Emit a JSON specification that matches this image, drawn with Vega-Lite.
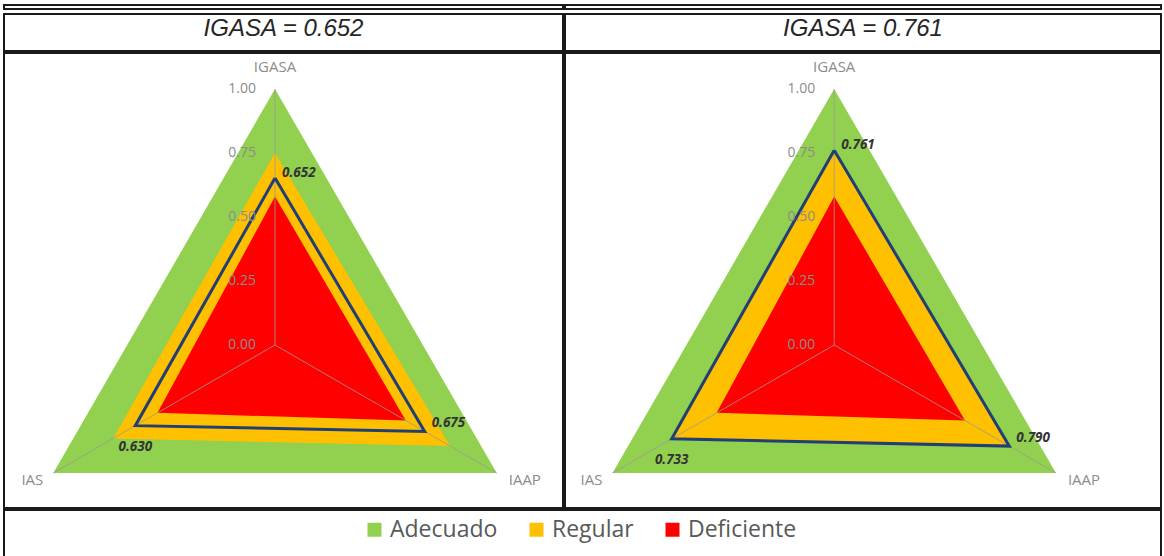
{
  "$schema": "https://vega.github.io/schema/vega-lite/v6.json",
  "padding": {"left": 3, "top": 0, "right": 0, "bottom": 0},
  "background": "white",
  "datasets": {
    "radar": [
      {"chart": "both", "series": "Adecuado", "axis": "IGASA", "value": 1.0, "o": 0},
      {"chart": "both", "series": "Adecuado", "axis": "IAAP", "value": 1.0, "o": 1},
      {"chart": "both", "series": "Adecuado", "axis": "IAS", "value": 1.0, "o": 2},
      {"chart": "both", "series": "Adecuado", "axis": "IGASA", "value": 1.0, "o": 3},
      {"chart": "both", "series": "Regular", "axis": "IGASA", "value": 0.75, "o": 0},
      {"chart": "both", "series": "Regular", "axis": "IAAP", "value": 0.79, "o": 1},
      {"chart": "both", "series": "Regular", "axis": "IAS", "value": 0.73, "o": 2},
      {"chart": "both", "series": "Regular", "axis": "IGASA", "value": 0.75, "o": 3},
      {"chart": "both", "series": "Deficiente", "axis": "IGASA", "value": 0.58, "o": 0},
      {"chart": "both", "series": "Deficiente", "axis": "IAAP", "value": 0.59, "o": 1},
      {"chart": "both", "series": "Deficiente", "axis": "IAS", "value": 0.53, "o": 2},
      {"chart": "both", "series": "Deficiente", "axis": "IGASA", "value": 0.58, "o": 3},
      {"chart": "both", "series": "tick", "axis": "IGASA", "value": 0.0, "o": 0},
      {"chart": "both", "series": "tick", "axis": "IGASA", "value": 0.25, "o": 1},
      {"chart": "both", "series": "tick", "axis": "IGASA", "value": 0.5, "o": 2},
      {"chart": "both", "series": "tick", "axis": "IGASA", "value": 0.75, "o": 3},
      {"chart": "both", "series": "tick", "axis": "IGASA", "value": 1.0, "o": 4},
      {"chart": "L", "series": "Valor", "axis": "IGASA", "value": 0.652, "o": 0},
      {"chart": "L", "series": "Valor", "axis": "IAAP", "value": 0.675, "o": 1},
      {"chart": "L", "series": "Valor", "axis": "IAS", "value": 0.630, "o": 2},
      {"chart": "L", "series": "Valor", "axis": "IGASA", "value": 0.652, "o": 3},
      {"chart": "R", "series": "Valor", "axis": "IGASA", "value": 0.761, "o": 0},
      {"chart": "R", "series": "Valor", "axis": "IAAP", "value": 0.790, "o": 1},
      {"chart": "R", "series": "Valor", "axis": "IAS", "value": 0.733, "o": 2},
      {"chart": "R", "series": "Valor", "axis": "IGASA", "value": 0.761, "o": 3}
    ]
  },
  "spacing": 0,
  "vconcat": [
    {
      "spacing": 0,
      "hconcat": [
        {"width": 559, "height": 4, "data": {"values": [{"t": ""}]}, "mark": {"type": "text"},
         "encoding": {"text": {"field": "t"},
           "x": {"datum": 0.5, "type": "quantitative", "scale": {"domain": [0, 1]}, "axis": null},
           "y": {"datum": 0.5, "type": "quantitative", "scale": {"domain": [0, 1]}, "axis": null}}},
        {"width": 596, "height": 4, "data": {"values": [{"t": ""}]}, "mark": {"type": "text"},
         "encoding": {"text": {"field": "t"},
           "x": {"datum": 0.5, "type": "quantitative", "scale": {"domain": [0, 1]}, "axis": null},
           "y": {"datum": 0.5, "type": "quantitative", "scale": {"domain": [0, 1]}, "axis": null}}}
      ]
    },
    {
      "spacing": 0,
      "hconcat": [
        {"width": 559, "height": 37, "data": {"values": [{"t": "IGASA = 0.652"}]},
         "mark": {"type": "text", "font": "Liberation Sans", "fontStyle": "italic", "fontSize": 24, "color": "#262626", "dy": -4},
         "encoding": {"text": {"field": "t"},
           "x": {"datum": 0.5, "type": "quantitative", "scale": {"domain": [0, 1]}, "axis": null},
           "y": {"datum": 0.5, "type": "quantitative", "scale": {"domain": [0, 1]}, "axis": null}}},
        {"width": 596, "height": 37, "data": {"values": [{"t": "IGASA = 0.761"}]},
         "mark": {"type": "text", "font": "Liberation Sans", "fontStyle": "italic", "fontSize": 24, "color": "#262626", "dy": -4},
         "encoding": {"text": {"field": "t"},
           "x": {"datum": 0.5, "type": "quantitative", "scale": {"domain": [0, 1]}, "axis": null},
           "y": {"datum": 0.5, "type": "quantitative", "scale": {"domain": [0, 1]}, "axis": null}}}
      ]
    },
    {
      "spacing": 0,
      "hconcat": [
        {
          "width": 559, "height": 455,
          "data": {"name": "radar"},
          "transform": [
            {"filter": "datum.chart == 'both' || datum.chart == 'L'"},
            {"calculate": "datum.axis == 'IGASA' ? PI/2 : (datum.axis == 'IAAP' ? -PI/6 : 7*PI/6)", "as": "a"},
            {"calculate": "datum.value * cos(datum.a)", "as": "x"},
            {"calculate": "datum.value * sin(datum.a)", "as": "y"}
          ],
          "encoding": {
            "x": {"field": "x", "type": "quantitative", "scale": {"domain": [-1.0586, 1.125], "nice": false, "zero": false}, "axis": null},
            "y": {"field": "y", "type": "quantitative", "scale": {"domain": [-0.6367, 1.1406], "nice": false, "zero": false}, "axis": null}
          },
          "layer": [
            {"transform": [{"filter": "datum.series == 'Adecuado'"}],
             "mark": {"type": "line", "filled": true, "strokeWidth": 0},
             "encoding": {"order": {"field": "o"},
               "color": {"field": "series", "type": "nominal", "scale": {"domain": ["Adecuado", "Regular", "Deficiente"], "range": ["#92D050", "#FFC000", "#FF0000"]},
                 "legend": {"orient": "none", "legendX": 359, "legendY": 513, "direction": "horizontal", "title": null, "symbolType": "square", "symbolSize": 196, "symbolStrokeWidth": 0, "labelFontSize": 23, "labelFont": "Open Sans", "labelColor": "#595959", "columnPadding": 27, "labelOffset": 4}}}},
            {"transform": [{"filter": "datum.series == 'Regular'"}],
             "mark": {"type": "line", "filled": true, "strokeWidth": 0},
             "encoding": {"order": {"field": "o"},
               "color": {"field": "series", "type": "nominal", "scale": {"domain": ["Adecuado", "Regular", "Deficiente"], "range": ["#92D050", "#FFC000", "#FF0000"]}}}},
            {"transform": [{"filter": "datum.series == 'Deficiente'"}],
             "mark": {"type": "line", "filled": true, "strokeWidth": 0},
             "encoding": {"order": {"field": "o"},
               "color": {"field": "series", "type": "nominal", "scale": {"domain": ["Adecuado", "Regular", "Deficiente"], "range": ["#92D050", "#FFC000", "#FF0000"]}}}},
            {"transform": [{"filter": "datum.series == 'Adecuado' && datum.o < 3"}],
             "mark": {"type": "rule", "color": "#9a9a9a", "strokeWidth": 1, "opacity": 0.8},
             "encoding": {"x2": {"datum": 0}, "y2": {"datum": 0}}},
            {"transform": [{"filter": "datum.series == 'Valor'"}],
             "mark": {"type": "line", "color": "#223F75", "strokeWidth": 3},
             "encoding": {"order": {"field": "o"}}},
            {"transform": [{"filter": "datum.series == 'tick'"}],
             "mark": {"type": "text", "align": "right", "baseline": "middle", "dx": -19, "font": "Open Sans", "fontSize": 14, "color": "#8c8c8c"},
             "encoding": {"text": {"field": "value", "type": "quantitative", "format": ".2f"}}},
            {"transform": [{"filter": "datum.series == 'Valor' && datum.o == 0"}],
             "mark": {"type": "text", "align": "left", "baseline": "middle", "dx": 7, "dy": -5, "font": "Open Sans", "fontSize": 13.5, "fontStyle": "italic", "fontWeight": "bold", "color": "#333333"},
             "encoding": {"text": {"field": "value", "type": "quantitative", "format": ".3f"}}},
            {"transform": [{"filter": "datum.series == 'Valor' && datum.o == 1"}],
             "mark": {"type": "text", "align": "left", "baseline": "middle", "dx": 7, "dy": -8, "font": "Open Sans", "fontSize": 13.5, "fontStyle": "italic", "fontWeight": "bold", "color": "#333333"},
             "encoding": {"text": {"field": "value", "type": "quantitative", "format": ".3f"}}},
            {"transform": [{"filter": "datum.series == 'Valor' && datum.o == 2"}],
             "mark": {"type": "text", "align": "center", "baseline": "middle", "dx": 0, "dy": 21, "font": "Open Sans", "fontSize": 13.5, "fontStyle": "italic", "fontWeight": "bold", "color": "#333333"},
             "encoding": {"text": {"field": "value", "type": "quantitative", "format": ".3f"}}},
            {"transform": [{"filter": "datum.series == 'Adecuado' && datum.o == 0"}],
             "mark": {"type": "text", "align": "center", "baseline": "middle", "dy": -22, "font": "Open Sans", "fontSize": 15, "color": "#8c8c8c"},
             "encoding": {"text": {"field": "axis"}}},
            {"transform": [{"filter": "datum.series == 'Adecuado' && datum.o == 1"}],
             "mark": {"type": "text", "align": "left", "baseline": "middle", "dx": 12, "dy": 7, "font": "Open Sans", "fontSize": 15, "color": "#8c8c8c"},
             "encoding": {"text": {"field": "axis"}}},
            {"transform": [{"filter": "datum.series == 'Adecuado' && datum.o == 2"}],
             "mark": {"type": "text", "align": "right", "baseline": "middle", "dx": -10, "dy": 7, "font": "Open Sans", "fontSize": 15, "color": "#8c8c8c"},
             "encoding": {"text": {"field": "axis"}}}
          ]
        },
        {
          "width": 596, "height": 455,
          "data": {"name": "radar"},
          "transform": [
            {"filter": "datum.chart == 'both' || datum.chart == 'R'"},
            {"calculate": "datum.axis == 'IGASA' ? PI/2 : (datum.axis == 'IAAP' ? -PI/6 : 7*PI/6)", "as": "a"},
            {"calculate": "datum.value * cos(datum.a)", "as": "x"},
            {"calculate": "datum.value * sin(datum.a)", "as": "y"}
          ],
          "encoding": {
            "x": {"field": "x", "type": "quantitative", "scale": {"domain": [-1.0516, 1.2766], "nice": false, "zero": false}, "axis": null},
            "y": {"field": "y", "type": "quantitative", "scale": {"domain": [-0.6367, 1.1406], "nice": false, "zero": false}, "axis": null}
          },
          "layer": [
            {"transform": [{"filter": "datum.series == 'Adecuado'"}],
             "mark": {"type": "line", "filled": true, "strokeWidth": 0},
             "encoding": {"order": {"field": "o"},
               "color": {"field": "series", "type": "nominal", "scale": {"domain": ["Adecuado", "Regular", "Deficiente"], "range": ["#92D050", "#FFC000", "#FF0000"]}}}},
            {"transform": [{"filter": "datum.series == 'Regular'"}],
             "mark": {"type": "line", "filled": true, "strokeWidth": 0},
             "encoding": {"order": {"field": "o"},
               "color": {"field": "series", "type": "nominal", "scale": {"domain": ["Adecuado", "Regular", "Deficiente"], "range": ["#92D050", "#FFC000", "#FF0000"]}}}},
            {"transform": [{"filter": "datum.series == 'Deficiente'"}],
             "mark": {"type": "line", "filled": true, "strokeWidth": 0},
             "encoding": {"order": {"field": "o"},
               "color": {"field": "series", "type": "nominal", "scale": {"domain": ["Adecuado", "Regular", "Deficiente"], "range": ["#92D050", "#FFC000", "#FF0000"]}}}},
            {"transform": [{"filter": "datum.series == 'Adecuado' && datum.o < 3"}],
             "mark": {"type": "rule", "color": "#9a9a9a", "strokeWidth": 1, "opacity": 0.8},
             "encoding": {"x2": {"datum": 0}, "y2": {"datum": 0}}},
            {"transform": [{"filter": "datum.series == 'Valor'"}],
             "mark": {"type": "line", "color": "#223F75", "strokeWidth": 3},
             "encoding": {"order": {"field": "o"}}},
            {"transform": [{"filter": "datum.series == 'tick'"}],
             "mark": {"type": "text", "align": "right", "baseline": "middle", "dx": -19, "font": "Open Sans", "fontSize": 14, "color": "#8c8c8c"},
             "encoding": {"text": {"field": "value", "type": "quantitative", "format": ".2f"}}},
            {"transform": [{"filter": "datum.series == 'Valor' && datum.o == 0"}],
             "mark": {"type": "text", "align": "left", "baseline": "middle", "dx": 7, "dy": -5, "font": "Open Sans", "fontSize": 13.5, "fontStyle": "italic", "fontWeight": "bold", "color": "#333333"},
             "encoding": {"text": {"field": "value", "type": "quantitative", "format": ".3f"}}},
            {"transform": [{"filter": "datum.series == 'Valor' && datum.o == 1"}],
             "mark": {"type": "text", "align": "left", "baseline": "middle", "dx": 7, "dy": -8, "font": "Open Sans", "fontSize": 13.5, "fontStyle": "italic", "fontWeight": "bold", "color": "#333333"},
             "encoding": {"text": {"field": "value", "type": "quantitative", "format": ".3f"}}},
            {"transform": [{"filter": "datum.series == 'Valor' && datum.o == 2"}],
             "mark": {"type": "text", "align": "center", "baseline": "middle", "dx": 0, "dy": 21, "font": "Open Sans", "fontSize": 13.5, "fontStyle": "italic", "fontWeight": "bold", "color": "#333333"},
             "encoding": {"text": {"field": "value", "type": "quantitative", "format": ".3f"}}},
            {"transform": [{"filter": "datum.series == 'Adecuado' && datum.o == 0"}],
             "mark": {"type": "text", "align": "center", "baseline": "middle", "dy": -22, "font": "Open Sans", "fontSize": 15, "color": "#8c8c8c"},
             "encoding": {"text": {"field": "axis"}}},
            {"transform": [{"filter": "datum.series == 'Adecuado' && datum.o == 1"}],
             "mark": {"type": "text", "align": "left", "baseline": "middle", "dx": 12, "dy": 7, "font": "Open Sans", "fontSize": 15, "color": "#8c8c8c"},
             "encoding": {"text": {"field": "axis"}}},
            {"transform": [{"filter": "datum.series == 'Adecuado' && datum.o == 2"}],
             "mark": {"type": "text", "align": "right", "baseline": "middle", "dx": -10, "dy": 7, "font": "Open Sans", "fontSize": 15, "color": "#8c8c8c"},
             "encoding": {"text": {"field": "axis"}}}
          ]
        }
      ]
    },
    {"width": 1157, "height": 50, "data": {"values": [{"t": ""}]}, "mark": {"type": "text"},
     "encoding": {"text": {"field": "t"},
       "x": {"datum": 0.5, "type": "quantitative", "scale": {"domain": [0, 1]}, "axis": null},
       "y": {"datum": 0.5, "type": "quantitative", "scale": {"domain": [0, 1]}, "axis": null}}}
  ],
  "config": {
    "view": {"stroke": "#1a1a1a", "strokeWidth": 2}
  }
}
